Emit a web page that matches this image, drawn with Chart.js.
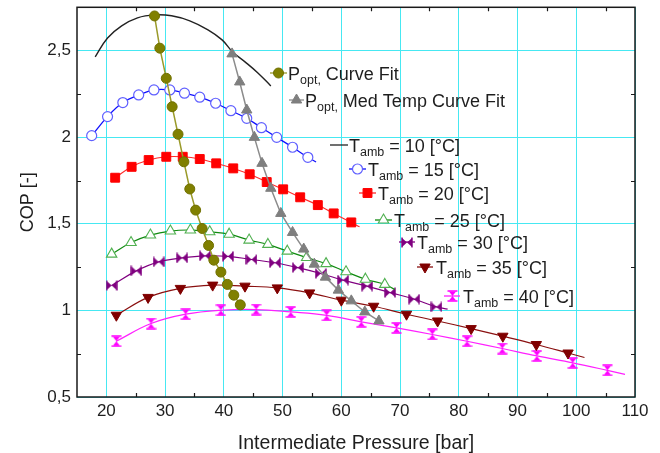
<!DOCTYPE html>
<html><head><meta charset="utf-8">
<script src="https://cdn.jsdelivr.net/npm/chart.js@4.4.1/dist/chart.umd.min.js"></script>
<style>html,body{margin:0;padding:0;background:#fff}#wrap{width:660px;height:453px}</style>
</head><body><div id="wrap"><canvas id="c" width="660" height="453"></canvas></div>
<script>
// ---------- data ----------
const xTicks = [20,30,40,50,60,70,80,90,100,110];
const yTicks = [0.5,1,1.5,2,2.5];
const yTickLabels = ['0,5','1','1,5','2','2,5'];
const xMinorTicks = [25,35,45,55,65,75,85,95,105];
const yMinorTicks = [0.75,1.25,1.75,2.25,2.75];
const xTitle = 'Intermediate Pressure [bar]';
const yTitle = 'COP [-]';

const poptCurveFit = [[28.2,2.700],[29.1,2.514],[30.2,2.340],[31.2,2.176],[32.2,2.017],[33.2,1.858],[34.2,1.701],[35.2,1.579],[36.3,1.473],[37.4,1.375],[38.3,1.290],[39.5,1.221],[40.6,1.150],[41.7,1.088],[42.8,1.032]];
const poptMedTemp = [[41.4,2.481],[42.7,2.319],[43.9,2.157],[45.2,1.999],[46.5,1.849],[48.0,1.705],[49.7,1.560],[51.7,1.450],[53.6,1.354],[55.4,1.267],[57.3,1.192],[59.5,1.117],[61.7,1.055],[64.0,0.991],[66.4,0.939]];
const t10Fit = [[18.1,2.464],[20.2,2.573],[22.6,2.643],[25.3,2.689],[28.2,2.706],[31.1,2.701],[34.2,2.672],[37.3,2.620],[39.7,2.562],[41.5,2.492],[43.6,2.435],[45.8,2.371],[48.0,2.296]];
const t15 = [[17.5,2.009],[20.2,2.119],[22.8,2.200],[25.5,2.244],[28.1,2.273],[30.8,2.273],[33.3,2.254],[35.9,2.231],[38.6,2.196],[41.2,2.153],[43.9,2.109],[46.4,2.055],[49.0,1.999],[51.7,1.942],[54.3,1.884]];
const t15End = [55.7,1.857];
const t20 = [[21.5,1.766],[24.3,1.829],[27.2,1.868],[30.2,1.887],[33.0,1.887],[35.9,1.874],[38.7,1.849],[41.6,1.820],[44.4,1.786],[47.3,1.741],[50.1,1.699],[53.0,1.653],[56.0,1.608],[58.7,1.560],[61.7,1.508]];
const t20End = [63.1,1.483];
const t25 = [[20.9,1.325],[24.2,1.392],[27.5,1.435],[30.9,1.458],[34.3,1.464],[37.6,1.454],[40.9,1.440],[44.3,1.406],[47.5,1.381],[50.8,1.342],[54.1,1.305],[57.4,1.270],[60.8,1.223],[64.1,1.180],[67.4,1.150]];
const t25End = [69.1,1.121];
const t30 = [[20.9,1.144],[25.1,1.228],[28.9,1.280],[32.9,1.303],[36.8,1.315],[40.7,1.312],[44.7,1.294],[48.7,1.275],[52.6,1.247],[56.5,1.213],[60.3,1.175],[64.4,1.140],[68.3,1.103],[72.4,1.065],[76.2,1.020]];
const t30End = [78.1,1.007];
const t35 = [[21.7,0.972],[27.1,1.075],[32.6,1.127],[38.1,1.146],[43.6,1.140],[49.1,1.130],[54.6,1.101],[60.0,1.059],[65.5,1.024],[71.1,0.978],[76.4,0.939],[82.1,0.895],[87.5,0.851],[93.2,0.803],[98.6,0.754]];
const t35End = [101.4,0.728];
const t40 = [[21.7,0.822],[27.6,0.924],[33.5,0.978],[39.5,1.001],[45.5,1.005],[51.4,0.991],[57.5,0.971],[63.4,0.934],[69.4,0.899],[75.5,0.861],[81.4,0.822],[87.4,0.780],[93.3,0.737],[99.4,0.697],[105.3,0.654]];
const t40End = [108.3,0.631];

const legendMain = ['P','P','T','T','T','T','T','T','T'];
const legendSub = ['opt,','opt,','amb','amb','amb','amb','amb','amb','amb'];
const legendRest = [' Curve Fit',' Med Temp Curve Fit',' = 10 [°C]',' = 15 [°C]',' = 20 [°C]',' = 25 [°C]',' = 30 [°C]',' = 35 [°C]',' = 40 [°C]'];

// ---------- styles / layout ----------
const FONT = "'Liberation Sans', Arial, Helvetica, sans-serif";
const TXT = '#1e1e1e';
const GRID = 'rgb(70,232,242)';
// [lineStartX, lineEndX, centerY, textX]
const legendPos = [[270,287,73,288],[289,304,100,305],[330,348,145,349],[349,366,169,368],[359,376,193,378],[375,392,220,394],[399,415,242,417],[417,433,267,436],[444,460,296,463]];

function makeMarker(kind, color){
  const c = document.createElement('canvas');
  const ctx = c.getContext('2d');
  if (kind === 'bowtie') {
    c.width = 12; c.height = 11;
    ctx.fillStyle = color;
    ctx.beginPath(); ctx.moveTo(1,1); ctx.lineTo(6,5.5); ctx.lineTo(1,10); ctx.closePath(); ctx.fill();
    ctx.beginPath(); ctx.moveTo(11,1); ctx.lineTo(6,5.5); ctx.lineTo(11,10); ctx.closePath(); ctx.fill();
    ctx.lineWidth = 1.4; ctx.strokeStyle = color;
    ctx.beginPath(); ctx.moveTo(1,0.5); ctx.lineTo(1,10.5); ctx.moveTo(11,0.5); ctx.lineTo(11,10.5); ctx.stroke();
  } else {
    c.width = 11; c.height = 12;
    ctx.fillStyle = color;
    ctx.beginPath(); ctx.moveTo(2,1.5); ctx.lineTo(9,1.5); ctx.lineTo(5.5,6); ctx.closePath(); ctx.fill();
    ctx.beginPath(); ctx.moveTo(2,10.5); ctx.lineTo(9,10.5); ctx.lineTo(5.5,6); ctx.closePath(); ctx.fill();
    ctx.lineWidth = 1.6; ctx.strokeStyle = color;
    ctx.beginPath(); ctx.moveTo(0.5,1); ctx.lineTo(10.5,1); ctx.moveTo(0.5,11); ctx.lineTo(10.5,11); ctx.stroke();
  }
  return c;
}
const bowtie = makeMarker('bowtie', '#800080');
const hourglass = makeMarker('hourglass', '#ff00ff');

const toXY = a => a.map(([x,y]) => ({x, y}));
function series(label, pts, end, style) {
  const data = toXY(end ? pts.concat([end]) : pts);
  const n = pts.length;
  return Object.assign({
    label, data,
    pointRadius: c => c.dataIndex >= n ? 0 : style.r,
    pointHoverRadius: 0,
    tension: 0.4,
    fill: false,
    clip: false
  }, style.ds);
}

const datasets = [
  series('Popt, Curve Fit', poptCurveFit, null, {r:5, ds:{borderColor:'#9a9a2a', borderWidth:1.5, tension:0, pointStyle:'circle', pointBackgroundColor:'#808000', pointBorderColor:'#707000', pointBorderWidth:1}}),
  series('Popt, Med Temp Curve Fit', poptMedTemp, null, {r:6, ds:{borderColor:'#8c8c8c', borderWidth:1.5, tension:0, pointStyle:'triangle', pointBackgroundColor:'#7f7f7f', pointBorderColor:'#7f7f7f', pointBorderWidth:1}}),
  series('Tamb = 10 [°C]', t10Fit, null, {r:0, ds:{borderColor:'#222', borderWidth:1.4}}),
  series('Tamb = 15 [°C]', t15, t15End, {r:5, ds:{borderColor:'#1010ff', borderWidth:1.3, pointStyle:'circle', pointBackgroundColor:'#fff', pointBorderColor:'#6060ff', pointBorderWidth:1.2}}),
  series('Tamb = 20 [°C]', t20, t20End, {r:6.3, ds:{borderColor:'#ff2a2a', borderWidth:1.1, pointStyle:'rect', pointBackgroundColor:'#ff0000', pointBorderColor:'#ff0000', pointBorderWidth:1}}),
  series('Tamb = 25 [°C]', t25, t25End, {r:6, ds:{borderColor:'#108a10', borderWidth:1.2, pointStyle:'triangle', pointBackgroundColor:'#fff', pointBorderColor:'#50b050', pointBorderWidth:1.1}}),
  series('Tamb = 30 [°C]', t30, t30End, {r:6, ds:{borderColor:'#800080', borderWidth:1.2, pointStyle:bowtie}}),
  series('Tamb = 35 [°C]', t35, t35End, {r:6, ds:{borderColor:'#8a1010', borderWidth:1.2, pointStyle:'triangle', pointRotation:180, pointBackgroundColor:'#800000', pointBorderColor:'#800000', pointBorderWidth:1}}),
  series('Tamb = 40 [°C]', t40, t40End, {r:6, ds:{borderColor:'#ff20ff', borderWidth:1.2, pointStyle:hourglass}})
];

function drawMarker(ctx, ds, x, y) {
  const st = ds.pointStyle;
  if (!st) return;
  if (st instanceof HTMLCanvasElement) { ctx.drawImage(st, Math.round(x - st.width/2), Math.round(y - st.height/2)); return; }
  const r = typeof ds.pointRadius === 'function' ? ds.pointRadius({dataIndex:0}) : ds.pointRadius;
  ctx.save();
  ctx.fillStyle = ds.pointBackgroundColor; ctx.strokeStyle = ds.pointBorderColor; ctx.lineWidth = ds.pointBorderWidth || 1;
  if (Chart.helpers && Chart.helpers.drawPoint) {
    Chart.helpers.drawPoint(ctx, {pointStyle: st, rotation: ds.pointRotation || 0, radius: r, borderWidth: ctx.lineWidth}, x, y);
  } else {
    ctx.beginPath(); ctx.arc(x, y, r, 0, Math.PI*2); ctx.fill(); ctx.stroke();
  }
  ctx.restore();
}

const framePlugin = {
  id: 'frame',
  afterDatasetsDraw(chart) {
    const {ctx, chartArea: a, scales: {x, y}} = chart;
    ctx.save();
    ctx.strokeStyle = '#1a1a1a'; ctx.lineWidth = 1.5;
    ctx.strokeRect(a.left, a.top, a.right - a.left, a.bottom - a.top);
    ctx.lineWidth = 1.2;
    ctx.beginPath();
    xMinorTicks.forEach(v => { const px = Math.round(x.getPixelForValue(v)) + 0.5;
      ctx.moveTo(px, a.bottom); ctx.lineTo(px, a.bottom - 4);
      ctx.moveTo(px, a.top); ctx.lineTo(px, a.top + 4); });
    yMinorTicks.forEach(v => { const py = Math.round(y.getPixelForValue(v)) + 0.5;
      ctx.moveTo(a.left, py); ctx.lineTo(a.left + 4, py);
      ctx.moveTo(a.right, py); ctx.lineTo(a.right - 4, py); });
    ctx.stroke();
    // legend
    chart.data.datasets.forEach((ds, i) => {
      const [x1, x2, yc, tx] = legendPos[i];
      ctx.strokeStyle = ds.borderColor; ctx.lineWidth = 1.3;
      ctx.beginPath(); ctx.moveTo(x1, yc); ctx.lineTo(x2, yc); ctx.stroke();
      drawMarker(ctx, ds, (x1 + x2) / 2, yc);
      ctx.fillStyle = TXT; ctx.textBaseline = 'alphabetic'; ctx.textAlign = 'left';
      const base = yc + 6.5;
      let cx = tx;
      ctx.font = `18px ${FONT}`; ctx.fillText(legendMain[i], cx, base); cx += ctx.measureText(legendMain[i]).width;
      ctx.font = `12.5px ${FONT}`; ctx.fillText(legendSub[i], cx, base + 4); cx += ctx.measureText(legendSub[i]).width;
      ctx.font = `18px ${FONT}`; ctx.fillText(legendRest[i], cx, base);
    });
    ctx.restore();
  }
};

new Chart(document.getElementById('c'), {
  type: 'line',
  data: { datasets },
  plugins: [framePlugin],
  options: {
    responsive: false, animation: false, events: [],
    layout: { padding: { left: 0, right: 25, top: 7, bottom: 0 } },
    plugins: { legend: { display: false }, tooltip: { enabled: false } },
    scales: {
      x: {
        type: 'linear', min: 15, max: 110,
        afterBuildTicks: s => { s.ticks = xTicks.map(v => ({value: v})); },
        afterFit: s => { s.height = 56; s.paddingLeft = 0; s.paddingRight = 0; },
        ticks: { font: { size: 17, family: FONT }, color: TXT, padding: 4, maxRotation: 0, autoSkip: false },
        grid: { color: GRID, lineWidth: 1, drawTicks: false },
        border: { display: false },
        title: { display: true, text: xTitle, color: TXT, font: { size: 19.5, family: FONT, lineHeight: 1 }, padding: 0 }
      },
      y: {
        type: 'linear', min: 0.5, max: 2.75,
        afterBuildTicks: s => { s.ticks = yTicks.map(v => ({value: v})); },
        afterFit: s => { s.width = 77; s.paddingTop = 0; s.paddingBottom = 0; },
        ticks: { font: { size: 17, family: FONT }, color: TXT, padding: 6, autoSkip: false,
          callback: v => { const i = yTicks.indexOf(v); return i >= 0 ? yTickLabels[i] : ''; } },
        grid: { color: GRID, lineWidth: 1, drawTicks: false },
        border: { display: false },
        title: { display: true, text: yTitle, color: TXT, font: { size: 18, family: FONT, lineHeight: 1 }, padding: { top: 19, bottom: 0 } }
      }
    }
  }
});
</script></body></html>
